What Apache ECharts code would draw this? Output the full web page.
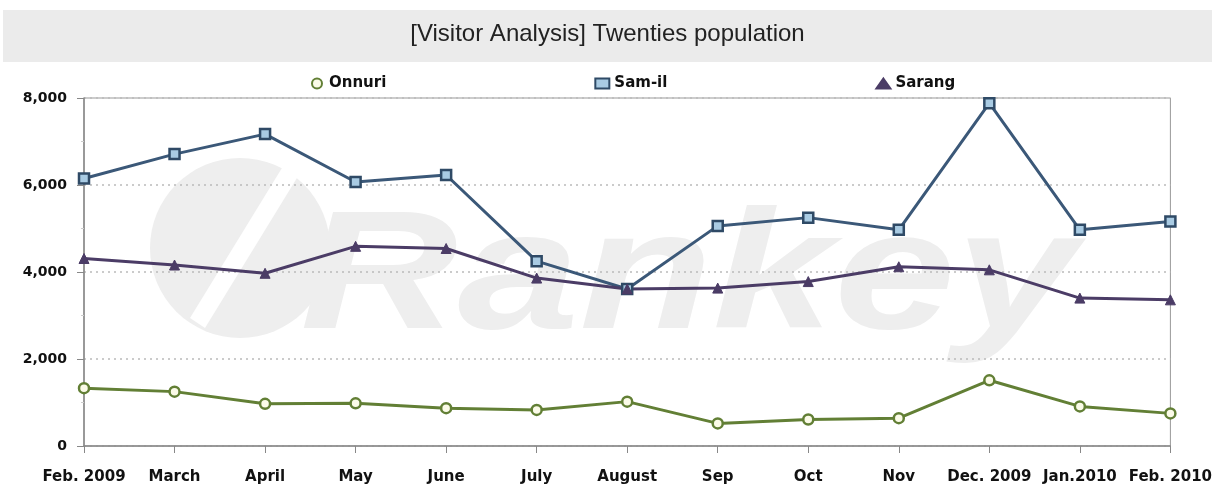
<!DOCTYPE html>
<html>
<head>
<meta charset="utf-8">
<script src="https://cdn.jsdelivr.net/npm/echarts@6/dist/echarts.min.js"></script>
<style>
html,body{margin:0;padding:0;background:#fff;}
#chart{width:1215px;height:491px;}
</style>
</head>
<body>
<div id="chart"></div>
<script>
var titleText = '[Visitor Analysis] Twenties population';
var categories = ['Feb. 2009','March','April','May','June','July','August','Sep','Oct','Nov','Dec. 2009','Jan.2010','Feb. 2010'];
var onnuri = [1330, 1250, 970, 980, 870, 830, 1020, 520, 610, 640, 1510, 910, 750];
var samil  = [6150, 6710, 7170, 6070, 6230, 4250, 3610, 5060, 5250, 4970, 7880, 4970, 5160];
var sarang = [4310, 4160, 3970, 4590, 4540, 3860, 3610, 3630, 3780, 4120, 4050, 3400, 3360];
var yTicks = [0, 2000, 4000, 6000, 8000];

var chart = echarts.init(document.getElementById('chart'));
var labelFont = 'DejaVu Sans';
chart.setOption({
  animation: false,
  backgroundColor: '#fff',
  graphic: [
    {type:'rect', left:3, top:10, z:-10, shape:{width:1209, height:52}, style:{fill:'#ebebeb'}},
    {type:'text', left:'center', top:22, z:-9, style:{text:titleText, fill:'#222', font:'24px "Liberation Sans Narrow", "Liberation Sans", sans-serif'}},
    {type:'group', z:-5, children:[
      {type:'circle', shape:{cx:240, cy:248, r:90}, style:{fill:'#eeeeee'}},
      {type:'polygon', shape:{points:[[190,318],[205,328],[300,173],[285,163]]}, style:{fill:'#fff'}},
      {type:'text', x:300, y:198, scaleX:1.3, style:{text:'Rankey', fill:'#eeeeee', font:'italic bold 168px "Liberation Sans", Arial, sans-serif'}}
    ]}
  ],
  legend: {
    left: 306, top: 71, itemGap: 208, itemWidth: 14, itemHeight: 10,
    textStyle: {fontFamily: labelFont, fontWeight: 'bold', fontSize: 15, color: '#111'},
    data: [
      {name:'Onnuri', icon:'circle'},
      {name:'Sam-il', icon:'rect'},
      {name:'Sarang', icon:'triangle'}
    ]
  },
  grid: {left: 84, right: 42, top: 98, bottom: 45, show: true, borderColor: '#999', borderWidth: 1, backgroundColor: 'transparent'},
  xAxis: {
    type: 'category', data: categories, boundaryGap: false,
    axisLine: {lineStyle: {color: '#888', width: 1.5}},
    axisTick: {show: true, alignWithLabel: true, length: 7, lineStyle: {color: '#888'}},
    axisLabel: {fontFamily: labelFont, fontWeight: 'bold', fontSize: 15, color: '#111', margin: 24, interval: 0},
    splitLine: {show: false}
  },
  yAxis: {
    type: 'value', min: yTicks[0], max: yTicks[yTicks.length-1], interval: 2000,
    axisLine: {show: true, lineStyle: {color: '#888', width: 1.5}},
    axisTick: {show: true, length: 7, lineStyle: {color: '#888'}},
    minorTick: {show: true, splitNumber: 2, length: 3, lineStyle: {color: '#ccc'}},
    axisLabel: {fontFamily: labelFont, fontWeight: 'bold', fontSize: 14, color: '#111', margin: 17,
      formatter: function(v){ return v.toLocaleString('en-US'); }},
    splitLine: {show: true, lineStyle: {color: '#bbb', type: [2, 4], width: 1.5}}
  },
  series: [
    {name:'Onnuri', type:'line', data:onnuri, symbol:'circle', symbolSize:10,
      lineStyle:{color:'#627f35', width:3}, itemStyle:{color:'#fbfbe8', borderColor:'#627f35', borderWidth:2.5}},
    {name:'Sam-il', type:'line', data:samil, symbol:'rect', symbolSize:10,
      lineStyle:{color:'#3b5878', width:3}, itemStyle:{color:'#a9cbe3', borderColor:'#2f4a66', borderWidth:2.5}},
    {name:'Sarang', type:'line', data:sarang, symbol:'triangle', symbolSize:10,
      lineStyle:{color:'#4b3c66', width:3}, itemStyle:{color:'#4b3c66', borderColor:'#4b3c66', borderWidth:1}}
  ]
});
</script>
</body>
</html>
